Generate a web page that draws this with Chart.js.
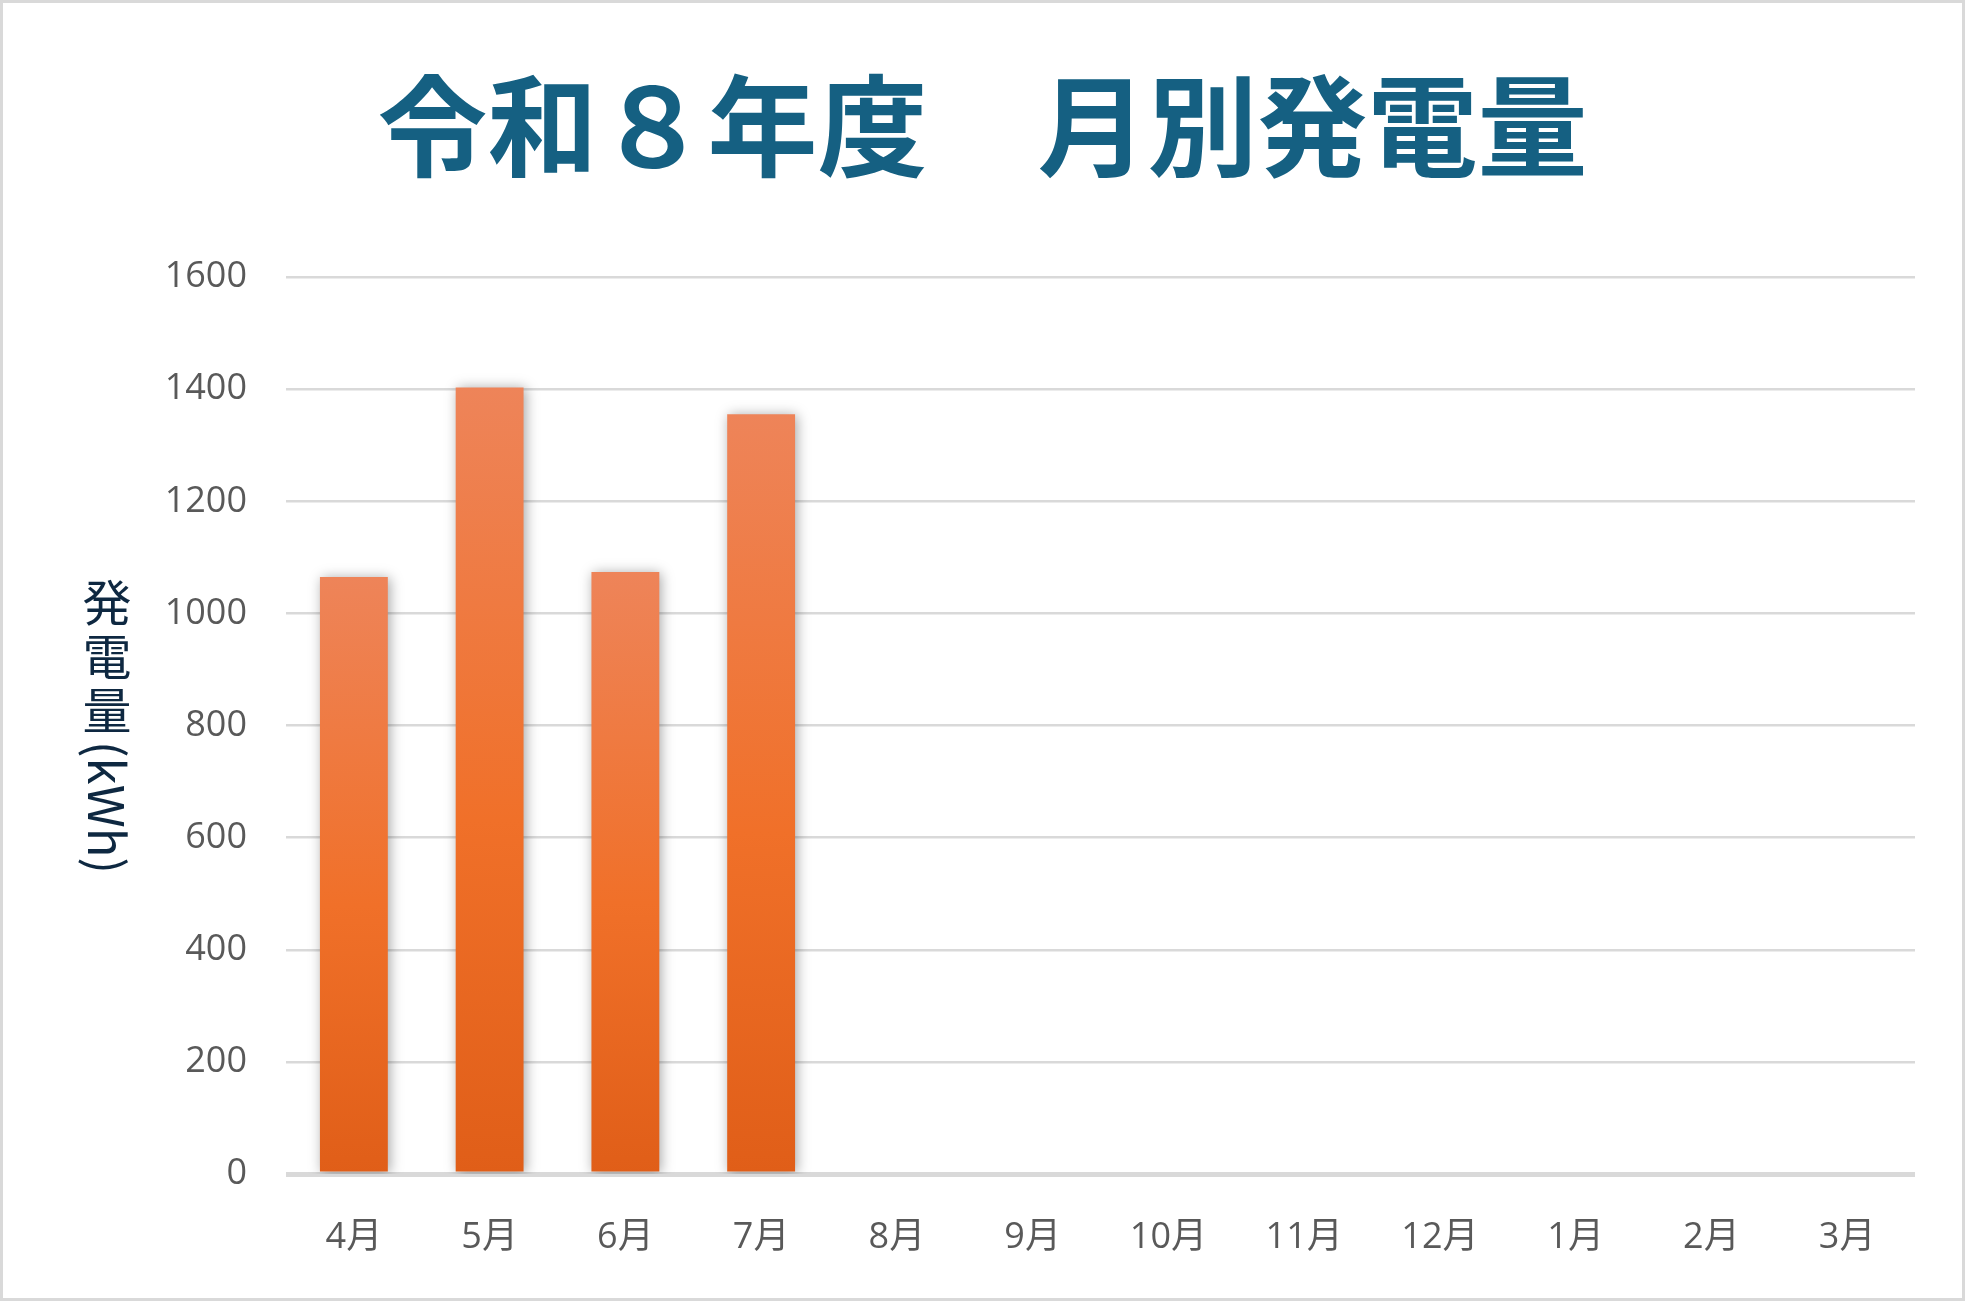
<!DOCTYPE html>
<html lang="ja">
<head>
<meta charset="utf-8">
<title>令和８年度 月別発電量</title>
<script src="https://cdn.jsdelivr.net/npm/chart.js@4.4.1/dist/chart.umd.min.js"></script>
<style>
  html, body { margin: 0; padding: 0; background: #fff; }
  #wrap { position: relative; width: 1965px; height: 1301px; }
  #frame { position: absolute; left: 0; top: 0; width: 1965px; height: 1301px;
           box-sizing: border-box; border: 3px solid #d9d9d9; pointer-events: none; }
</style>
</head>
<body>
<div id="wrap">
  <canvas id="barChart" width="1965" height="1301"></canvas>
  <div id="frame"></div>
</div>
<script>
var months = ['4月', '5月', '6月', '7月', '8月', '9月', '10月', '11月', '12月', '1月', '2月', '3月'];
var generation = [1065, 1403, 1074, 1355, null, null, null, null, null, null, null, null];
var yTicks = [0, 200, 400, 600, 800, 1000, 1200, 1400, 1600];
var chartTitle = '令和８年度　月別発電量';

var latinFont = '"Open Sans", "Noto Sans CJK JP", sans-serif';

// title centred on the whole canvas, not on the padded area
var titlePlugin = {
  id: 'pageTitle',
  afterDraw: function(chart) {
    var ctx = chart.ctx;
    ctx.save();
    ctx.font = 'bold 110px "Noto Sans CJK JP", sans-serif';
    ctx.fillStyle = '#156082';
    ctx.textAlign = 'center';
    ctx.textBaseline = 'middle';
    ctx.fillText(chartTitle, chart.width / 2, 126);
    ctx.restore();
  }
};

// vertical axis title: kanji upright, (kWh) turned sideways
var yTitlePlugin = {
  id: 'yTitle',
  afterDraw: function(chart) {
    var ctx = chart.ctx;
    var area = chart.chartArea;
    var chars = ['発', '電', '量'];
    var step = 54;
    ctx.save();
    ctx.font = '49px "Noto Sans CJK JP", sans-serif';
    ctx.fillStyle = '#0e2841';
    var latinW = ctx.measureText('(kWh)').width;
    var y = (area.top + area.bottom) / 2 - (chars.length * step + latinW) / 2 - 3;
    var x = 107;
    ctx.textAlign = 'center';
    ctx.textBaseline = 'middle';
    chars.forEach(function(c) {
      ctx.fillText(c, x, y + step / 2);
      y += step;
    });
    ctx.translate(x, y + 4);
    ctx.rotate(Math.PI / 2);
    ctx.textAlign = 'left';
    ctx.fillText('(kWh)', 0, 0);
    ctx.restore();
  }
};

var shadowPlugin = {
  id: 'barShadow',
  beforeDatasetsDraw: function(chart) {
    var ctx = chart.ctx;
    ctx.save();
    ctx.shadowColor = 'rgba(0, 0, 0, 0.35)';
    ctx.shadowBlur = 12;
    ctx.shadowOffsetX = 2;
    ctx.shadowOffsetY = 1;
  },
  afterDatasetsDraw: function(chart) {
    chart.ctx.restore();
  }
};

function barFill(c) {
  var chart = c.chart;
  var y = chart.scales.y;
  if (!chart.chartArea || !y || c.raw == null) return '#e97132';
  var top = y.getPixelForValue(c.raw);
  var bottom = y.getPixelForValue(0);
  var g = chart.ctx.createLinearGradient(0, top, 0, bottom);
  g.addColorStop(0, '#ee8459');
  g.addColorStop(0.55, '#f07029');
  g.addColorStop(1, '#e05e18');
  return g;
}

var ctx = document.getElementById('barChart').getContext('2d');
var chart = new Chart(ctx, {
  type: 'bar',
  data: {
    labels: months,
    datasets: [{
      label: '発電量',
      data: generation,
      backgroundColor: barFill,
      borderWidth: 0,
      barPercentage: 0.5,
      categoryPercentage: 1.0
    }]
  },
  options: {
    responsive: false,
    animation: false,
    devicePixelRatio: 1,
    layout: {
      padding: { left: 168, right: 50, top: 277, bottom: 45 }
    },
    plugins: {
      legend: { display: false },
      tooltip: { enabled: false },
      title: { display: false }
    },
    scales: {
      x: {
        afterFit: function(scale) { scale.height = 82; },
        grid: { display: false, drawTicks: false },
        border: { display: false },
        ticks: {
          color: '#595959',
          padding: 42,
          maxRotation: 0,
          font: { family: latinFont, size: 36 }
        }
      },
      y: {
        min: 0,
        max: 1600,
        afterBuildTicks: function(scale) {
          scale.ticks = yTicks.map(function(v) { return { value: v }; });
        },
        afterFit: function(scale) { scale.width = 118; },
        grid: {
          color: '#d9d9d9',
          drawTicks: false,
          lineWidth: function(c) { return c.tick && c.tick.value === 0 ? 5 : 2.5; }
        },
        border: { display: false },
        ticks: {
          color: '#595959',
          padding: 39,
          font: { family: latinFont, size: 36 },
          callback: function(v) { return String(v); }
        }
      }
    }
  },
  plugins: [shadowPlugin, titlePlugin, yTitlePlugin]
});
</script>
</body>
</html>
